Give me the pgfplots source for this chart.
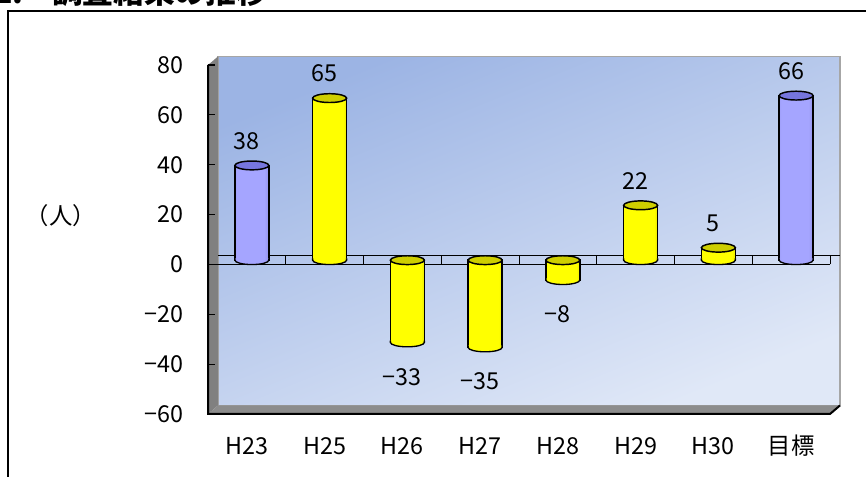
\documentclass[border=0pt]{standalone}
\usepackage{pgfplots}
\pgfplotsset{compat=1.18}
\usepackage{fontspec}
\setmainfont{Noto Sans CJK JP}
\definecolor{blueL}{RGB}{105,105,195}
\definecolor{blueM}{RGB}{165,165,255}
\definecolor{blueR}{RGB}{85,85,165}
\definecolor{blueTop}{RGB}{118,118,222}
\definecolor{yelL}{RGB}{175,175,0}
\definecolor{yelM}{RGB}{255,255,0}
\definecolor{yelR}{RGB}{120,120,0}
\definecolor{yelTop}{RGB}{206,206,0}
\definecolor{wallA}{RGB}{156,180,228}
\definecolor{wallB}{RGB}{224,232,247}
\definecolor{wallgrey}{RGB}{128,128,128}
\definecolor{floorgrey}{RGB}{140,140,140}
\pgfdeclarehorizontalshading{yelshade}{100bp}{color(0bp)=(yelL); color(20bp)=(yelM); color(70bp)=(yelM); color(100bp)=(yelR)}
\pgfdeclarehorizontalshading{blushade}{100bp}{color(0bp)=(blueL); color(28bp)=(blueM); color(68bp)=(blueM); color(100bp)=(blueR)}
\pgfdeclareplotmark{cyltop}{%
  \pgfpathellipse{\pgfpointorigin}{\pgfpoint{12.75pt}{0pt}}{\pgfpoint{0pt}{3.3pt}}%
  \pgfusepathqfillstroke}
\newcommand{\cylbotpath}{%
  \pgfpathmoveto{\pgfpoint{-12.75pt}{1.4pt}}\pgfpathlineto{\pgfpoint{-12.75pt}{0pt}}%
  \pgfpatharc{180}{360}{12.75pt and 3.3pt}%
  \pgfpathlineto{\pgfpoint{12.75pt}{1.4pt}}}
\pgfdeclareplotmark{cylbotY}{%
  \cylbotpath\pgfpathclose\pgfshadepath{yelshade}{0}\pgfusepath{discard}%
  \cylbotpath\pgfusepathqstroke}
\pgfdeclareplotmark{cylbotB}{%
  \cylbotpath\pgfpathclose\pgfshadepath{blushade}{0}\pgfusepath{discard}%
  \cylbotpath\pgfusepathqstroke}
\newcommand{\lblfont}{\fontsize{17.5pt}{20pt}\selectfont}
\pgfplotsset{
  bodyY/.style={ybar, bar width=0.437, bar shift=0pt, draw=black, line width=1pt,
    shade, shading=yelshade, xshift=3.75pt, yshift=3.2pt},
  bodyB/.style={ybar, bar width=0.437, bar shift=0pt, draw=black, line width=1pt,
    shade, shading=blushade, xshift=3.75pt, yshift=3.2pt},
}
\begin{document}
\begin{tikzpicture}[x=0.75pt,y=0.75pt]
\useasboundingbox (0,0) rectangle (866,477);
\clip (0,0) rectangle (866,477);
% frame
\draw[line width=1.5pt] (8,-20) -- (8,466) -- (900,466);
% cropped title
\node[anchor=base east, inner sep=0pt, font=\fontsize{23pt}{26pt}\selectfont\bfseries] at (24,473) {1.};
\node[anchor=base west, inner sep=0pt, font=\fontsize{23pt}{26pt}\selectfont\bfseries] at (52,473) {調査結果の推移};
% unit
\node[font=\lblfont] at (61,261) {（人）};
\begin{axis}[
  at={(156pt,47.25pt)}, anchor=south west,
  scale only axis, width=466.5pt, height=261.75pt,
  xmin=-0.5, xmax=7.5, ymin=-60, ymax=80,
  clip=false, axis on top,
  axis line style={draw=none},
  axis x line*=bottom, axis y line*=left,
  xtick={0,...,7},
  xticklabels={H23,H25,H26,H27,H28,H29,H30,目標},
  xtick style={draw=none},
  ytick={-60,-40,-20,0,20,40,60,80},
  yticklabels={−60,−40,−20,0,20,40,60,80},
  ytick style={black, line width=0.8pt},
  tick align=inside, major tick length=5.5pt,
  tick label style={font=\lblfont},
  xticklabel style={anchor=base, yshift=-30.5pt},
  yticklabel style={anchor=east, inner sep=0pt, xshift=-18pt},
]
% back wall
\shade[top color=wallA, bottom color=wallB, shading angle=22]
  ([shift={(7.5pt,6.4pt)}]rel axis cs:0,0) rectangle ([shift={(7.5pt,6.4pt)}]rel axis cs:1,1);
\draw[color=black!35, line width=0.8pt]
  ([shift={(7.5pt,6.4pt)}]rel axis cs:0,0) rectangle ([shift={(7.5pt,6.4pt)}]rel axis cs:1,1);
% left wall
\fill[wallgrey] (rel axis cs:0,0) -- (rel axis cs:0,1) -- ([shift={(7.5pt,6.4pt)}]rel axis cs:0,1)
  -- ([shift={(7.5pt,6.4pt)}]rel axis cs:0,0) -- cycle;
% bottom floor
\fill[floorgrey] (rel axis cs:0,0) -- (rel axis cs:1,0) -- ([shift={(7.5pt,6.4pt)}]rel axis cs:1,0)
  -- ([shift={(7.5pt,6.4pt)}]rel axis cs:0,0) -- cycle;
\draw[black, line width=1.5pt] (rel axis cs:0,1) -- (rel axis cs:0,0) -- (rel axis cs:1,0)
  -- ([shift={(7.5pt,6.4pt)}]rel axis cs:1,0);
% zero floor
\draw[black, line width=0.9pt] (axis cs:-0.5,0) -- (axis cs:7.5,0);
\draw[black, line width=0.9pt] ([shift={(7.5pt,6.4pt)}]axis cs:-0.5,0) -- ([shift={(7.5pt,6.4pt)}]axis cs:7.5,0);
\draw[black, line width=0.7pt]
  (axis cs:0.5,0) -- ([yshift=6.4pt]axis cs:0.5,0)
  (axis cs:1.5,0) -- ([yshift=6.4pt]axis cs:1.5,0)
  (axis cs:2.5,0) -- ([yshift=6.4pt]axis cs:2.5,0)
  (axis cs:3.5,0) -- ([yshift=6.4pt]axis cs:3.5,0)
  (axis cs:4.5,0) -- ([yshift=6.4pt]axis cs:4.5,0)
  (axis cs:5.5,0) -- ([yshift=6.4pt]axis cs:5.5,0)
  (axis cs:6.5,0) -- ([yshift=6.4pt]axis cs:6.5,0)
  (axis cs:7.5,0) -- ([yshift=6.4pt]axis cs:7.5,0);
% bars: blue
\addplot[bodyB] coordinates {(0,38)};
\addplot[bodyB] coordinates {(7,66)};
\addplot[only marks, mark=cylbotB, mark options={draw=black, line width=1pt},
  xshift=3.75pt, yshift=3.2pt] coordinates {(0,0) (7,0)};
\addplot[only marks, mark=cyltop, mark options={fill=blueTop, draw=black, line width=1.1pt},
  xshift=3.75pt, yshift=3.2pt] coordinates {(0,38) (7,66)};
% bars: yellow
\addplot[bodyY] coordinates {(1,65)};
\addplot[bodyY] coordinates {(2,-33)};
\addplot[bodyY] coordinates {(3,-35)};
\addplot[bodyY] coordinates {(4,-8)};
\addplot[bodyY] coordinates {(5,22)};
\addplot[bodyY] coordinates {(6,5)};
\addplot[only marks, mark=cylbotY, mark options={draw=black, line width=1pt},
  xshift=3.75pt, yshift=3.2pt] coordinates {(1,0) (2,-33) (3,-35) (4,-8) (5,0) (6,0)};
\addplot[only marks, mark=cyltop, mark options={fill=yelTop, draw=black, line width=1.1pt},
  xshift=3.75pt, yshift=3.2pt] coordinates {(1,65) (2,0) (3,0) (4,0) (5,22) (6,5)};
% value labels
\addplot[draw=none, no marks, nodes near coords, point meta=explicit symbolic,
  nodes near coords style={anchor=center, yshift=21.75pt, font=\lblfont, text=black}]
  coordinates {(0,38)[38] (1,65)[65] (5,22)[22] (6,5)[5] (7,66)[66]};
\addplot[draw=none, no marks, nodes near coords, point meta=explicit symbolic,
  nodes near coords style={anchor=center, yshift=-22.5pt, font=\lblfont, text=black}]
  coordinates {(2,-33)[−33] (3,-35)[−35] (4,-8)[−8]};
\end{axis}
\end{tikzpicture}
\end{document}
